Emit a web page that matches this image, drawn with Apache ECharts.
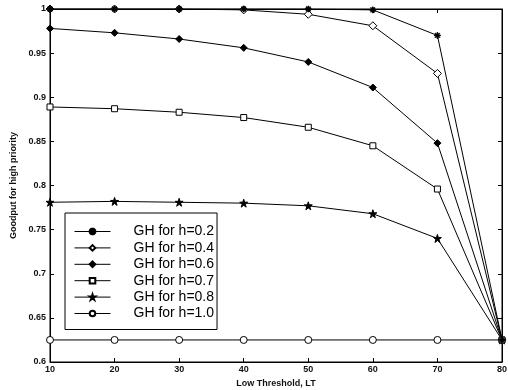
<!DOCTYPE html>
<html>
<head>
<meta charset="utf-8">
<script src="https://cdn.jsdelivr.net/npm/echarts@6/dist/echarts.min.js"></script>
<style>
html,body{margin:0;padding:0;background:#fff;}
#c{width:508px;height:390px;}
</style>
</head>
<body>
<div id="c"></div>
<script>
const thresholds = [10, 20, 30, 40, 50, 60, 70, 80];
const gh02 = [1.0, 1.0, 1.0, 1.0, 1.0, 0.999, 0.970, 0.625];
const gh04 = [1.0, 1.0, 1.0, 0.999, 0.994, 0.981, 0.927, 0.625];
const gh06 = [0.978, 0.973, 0.966, 0.956, 0.940, 0.911, 0.848, 0.625];
const gh07 = [0.889, 0.887, 0.883, 0.877, 0.866, 0.845, 0.796, 0.625];
const gh08 = [0.781, 0.782, 0.781, 0.780, 0.777, 0.768, 0.740, 0.625];
const gh10 = [0.625, 0.625, 0.625, 0.625, 0.625, 0.625, 0.625, 0.625];
const seriesNames = ['GH for h=0.2', 'GH for h=0.4', 'GH for h=0.6', 'GH for h=0.7', 'GH for h=0.8', 'GH for h=1.0'];
const xTicks = [10, 20, 30, 40, 50, 60, 70, 80];
const yTicks = [0.6, 0.65, 0.7, 0.75, 0.8, 0.85, 0.9, 0.95, 1];

const asterisk = 'path://M-0.12,-1L0.12,-1L0.12,1L-0.12,1Z M-1,-0.12L1,-0.12L1,0.12L-1,0.12Z M-0.622,-0.792L0.792,0.622L0.622,0.792L-0.792,-0.622Z M-0.622,0.792L0.792,-0.622L0.622,-0.792L-0.792,0.622Z';
const star = 'path://M0,-1L0.225,-0.309L0.951,-0.309L0.363,0.118L0.588,0.809L0,0.382L-0.588,0.809L-0.363,0.118L-0.951,-0.309L-0.225,-0.309Z';

const allData = [gh02, gh04, gh06, gh07, gh08, gh10];
const symbols = [asterisk, 'diamond', 'diamond', 'rect', star, 'circle'];
const sizes = [6, 8, 7, 6, 8, 7];
const fills = ['#000', '#fff', '#000', '#fff', '#000', '#fff'];
const zs = [10, 3, 4, 5, 6, 7];

const series = allData.map((arr, i) => ({
  name: seriesNames[i],
  type: 'line',
  data: thresholds.map((x, j) => [x, arr[j]]),
  symbol: symbols[i],
  symbolSize: sizes[i],
  showAllSymbol: true,
  lineStyle: { color: '#000', width: 1 },
  itemStyle: { color: fills[i], borderColor: '#000', borderWidth: 1 },
  emphasis: { disabled: true },
  animation: false,
  z: zs[i]
}));

const chart = echarts.init(document.getElementById('c'), null, { renderer: 'canvas' });
const labelFont = { fontFamily: 'Liberation Sans, Arial, sans-serif', fontSize: 9, fontWeight: 'bold', color: '#111' };
chart.setOption({
  backgroundColor: '#fff',
  animation: false,
  grid: { left: 50, right: 6, top: 9, bottom: 28, show: true, borderColor: '#000', borderWidth: 1, backgroundColor: 'transparent', containLabel: false, outerBoundsMode: 'none' },
  legend: {
    orient: 'vertical',
    left: 65, top: 213,
    padding: [11.5, 3, 9, 9],
    itemGap: 2.4,
    itemWidth: 36, itemHeight: 7,
    borderColor: '#000', borderWidth: 1,
    backgroundColor: '#fff',
    lineStyle: { width: 1, color: '#000' },
    textStyle: { fontFamily: 'Liberation Sans, Arial, sans-serif', fontSize: 14, lineHeight: 14, color: '#000', padding: [0, 0, 0, 18] },
    data: seriesNames,
    selectedMode: false
  },
  xAxis: [{
    type: 'value', min: xTicks[0], max: xTicks[xTicks.length - 1], interval: 10,
    position: 'bottom',
    name: 'Low Threshold, LT', nameLocation: 'middle', nameGap: 16,
    nameTextStyle: { fontFamily: 'Liberation Sans, Arial, sans-serif', fontSize: 9, fontWeight: 'bold', color: '#111' },
    axisLine: { show: true, lineStyle: { color: '#000', width: 1 } },
    axisTick: { show: true, inside: true, length: 4, lineStyle: { color: '#000' } },
    axisLabel: Object.assign({ margin: 3 }, labelFont),
    splitLine: { show: false }
  }, {
    type: 'value', min: xTicks[0], max: xTicks[xTicks.length - 1], interval: 10,
    position: 'top',
    axisLine: { show: true, lineStyle: { color: '#000', width: 1 } },
    axisTick: { show: true, inside: true, length: 4, lineStyle: { color: '#000' } },
    axisLabel: { show: false },
    splitLine: { show: false }
  }],
  yAxis: [{
    type: 'value', min: yTicks[0], max: yTicks[yTicks.length - 1], interval: 0.05,
    position: 'left',
    name: 'Goodput for high priority', nameLocation: 'middle', nameGap: 26, nameRotate: 90,
    nameTextStyle: { fontFamily: 'Liberation Sans, Arial, sans-serif', fontSize: 9, fontWeight: 'bold', color: '#111' },
    axisLine: { show: true, lineStyle: { color: '#000', width: 1 } },
    axisTick: { show: true, inside: true, length: 4, lineStyle: { color: '#000' } },
    axisLabel: Object.assign({ margin: 4, formatter: v => String(+v.toFixed(2)) }, labelFont),
    splitLine: { show: false }
  }, {
    type: 'value', min: yTicks[0], max: yTicks[yTicks.length - 1], interval: 0.05,
    position: 'right',
    axisLine: { show: true, lineStyle: { color: '#000', width: 1 } },
    axisTick: { show: true, inside: true, length: 4, lineStyle: { color: '#000' } },
    axisLabel: { show: false },
    splitLine: { show: false }
  }],
  series: series
});
</script>
</body>
</html>
